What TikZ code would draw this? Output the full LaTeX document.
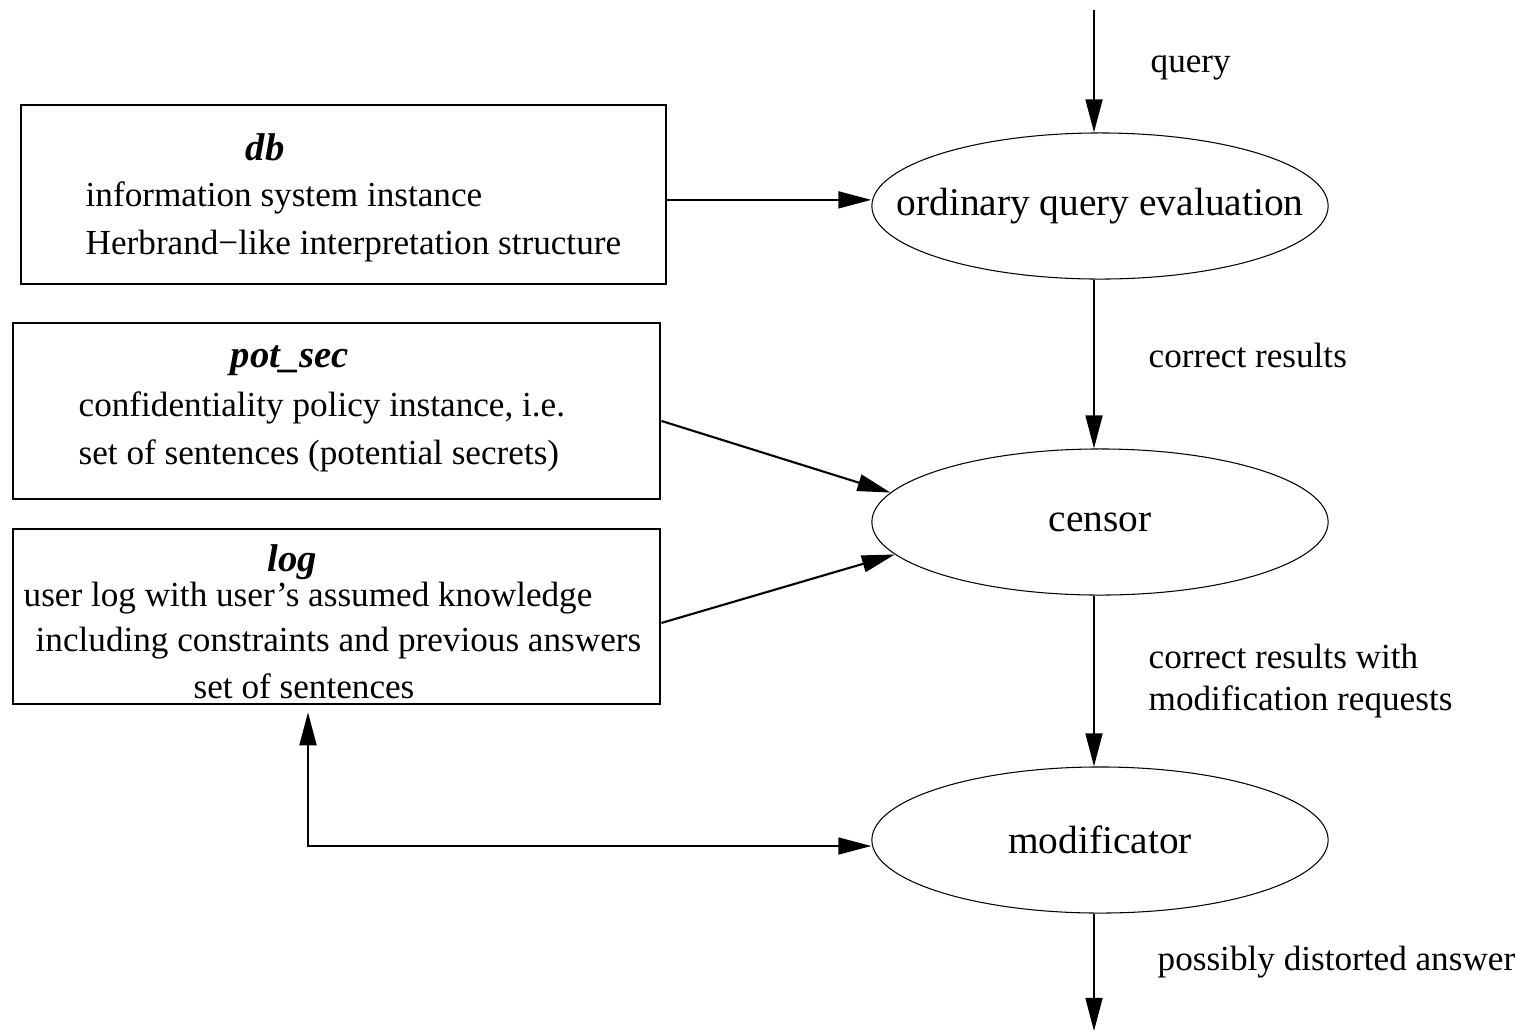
\documentclass[tikz,border=0pt]{standalone}
\usepackage{fontspec}
\setmainfont{Liberation Serif}
\usetikzlibrary{positioning,arrows.meta,shapes.geometric,calc}

\begin{document}
\begin{tikzpicture}[
  x=0.01cm, y=-0.01cm,
  font=\fontsize{10pt}{13pt}\selectfont,
  box/.style={draw, line width=0.6pt, inner sep=0pt, anchor=north west},
  proc/.style={draw, ellipse, line width=0.3pt, inner sep=0pt,
    minimum width=4.56cm, minimum height=1.46cm},
  ptxt/.style={inner sep=0pt, font=\fontsize{11.2pt}{13pt}\selectfont},
  ttl/.style={anchor=base, inner sep=0pt, font=\fontsize{11pt}{13pt}\selectfont\bfseries\itshape},
  txt/.style={anchor=base west, inner sep=0pt},
  arr/.style={-{Triangle[length=9.4pt,width=4.8pt]}, line width=0.6pt},
  arrboth/.style={{Triangle[length=9.4pt,width=4.8pt]}-{Triangle[length=9.4pt,width=4.8pt]}, line width=0.6pt}
]
\useasboundingbox (0,0) rectangle (1521,1033);

% stores on the left
\node[box, minimum width=6.45cm, minimum height=1.79cm] (db) at (20,104) {};
\node[box, minimum width=6.47cm, minimum height=1.76cm] (sec) at (12,322) {};
\node[box, minimum width=6.47cm, minimum height=1.75cm] (log) at (12,528) {};

\node[ttl] (dbttl) at (265,160) {db};
\node[txt] (db1) at (85,206) {information system instance};
\node[txt] (db2) at (85,254) {Herbrand−like interpretation structure};

\node[ttl] (secttl) at (290,367) {pot\_sec};
\node[txt] (sec1) at (78,416) {confidentiality policy instance, i.e.};
\node[txt] (sec2) at (78,464) {set of sentences (potential secrets)};

\node[ttl] (logttl) at (292,571) {log};
\node[txt] (log1) at (23,606) {user log with user’s assumed knowledge};
\node[txt] (log2) at (35,651) {including constraints and previous answers};
\node[txt] (log3) at (193,698) {set of sentences};

% processing steps, text kept apart so all three ellipses stay the same size
\node[proc] (eval) at (1100,206) {};
\node[proc] (censor) at (1100,522) {};
\node[proc] (modif) at (1100,840) {};
\node[ptxt] (evaltxt) at (eval) {ordinary query evaluation};
\node[ptxt] (censortxt) at (censor) {censor};
\node[ptxt] (modiftxt) at (modif) {modificator};

\coordinate (in) at (1094,10);
\coordinate (out) at (1094,1031);
\coordinate (bend) at (308,846);
\coordinate (dbout) at ([yshift=-1.5pt]db.east);
\coordinate (secout) at ([yshift=-2.8pt]sec.east);
\coordinate (logout) at ([yshift=-1.8pt]log.east);

\draw[arr] (in) -- (in |- eval.north);
\draw[arr] (in |- eval.south) -- (in |- censor.north);
\draw[arr] (in |- censor.south) -- (in |- modif.north);
\draw[arr] (in |- modif.south) -- (out);

\draw[arr] (dbout) -- (eval.west |- dbout);
\draw[arr] (secout) -- (censor.172);
\draw[arr] (logout) -- (censor.189);
\draw[arrboth, shorten <=2pt] (log.south -| bend) -- (bend) -- (modif.west |- bend);

% flow labels
\node[txt] (lquery) at (1150,72) {query};
\node[txt] (lcorr) at (1148,367) {correct results};
\node[txt] (lmod1) at (1148,668) {correct results with};
\node[txt] (lmod2) at (1148,710) {modification requests};
\node[txt] (lans) at (1157,970) {possibly distorted answer};
\end{tikzpicture}
\end{document}
